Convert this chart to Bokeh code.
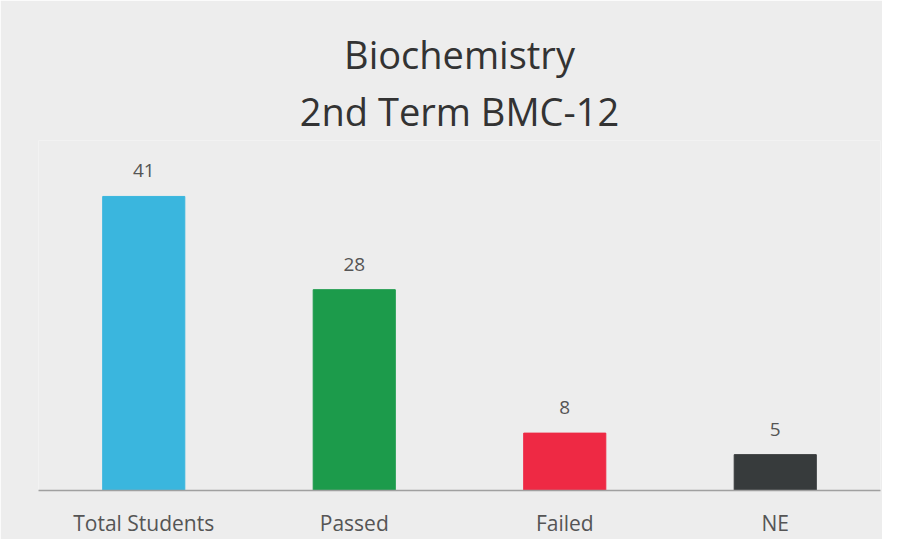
from bokeh.plotting import figure
from bokeh.models import ColumnDataSource, LabelSet, Title, Range1d
from bokeh.core.properties import value
from bokeh.embed import file_html
from bokeh.resources import INLINE

categories = ["Total Students", "Passed", "Failed", "NE"]
values = [41, 28, 8, 5]
colors = ["#3AB6DE", "#1C9B4B", "#EE2944", "#373B3C"]

src = ColumnDataSource(dict(cat=categories, val=values, col=colors,
                            lbl=[str(v) for v in values]))

bg = "#EDEDED"
p = figure(x_range=categories, width=882, height=539, output_backend="svg",
           toolbar_location=None, title=None,
           background_fill_color=bg, border_fill_color=bg,
           min_border_left=38, min_border_right=2, min_border_bottom=48,
           min_border_top=140)
p.outline_line_color = None
p.y_range = Range1d(0, 48.8)

p.vbar(x="cat", top="val", width=0.39, color="col", source=src)

labels = LabelSet(x="cat", y="val", text="lbl", source=src, y_offset=19,
                  text_align="center", text_baseline="bottom",
                  text_font=value("Open Sans"), text_font_size="19px",
                  text_color="#555555")
p.add_layout(labels)

p.add_layout(Title(text="2nd Term BMC-12", align="center", text_font="Open Sans",
                   text_font_size="38px", text_font_style="normal",
                   text_color="#333333", standoff=7), "above")
p.add_layout(Title(text="Biochemistry", align="center", text_font="Open Sans",
                   text_font_size="38px", text_font_style="normal",
                   text_color="#333333", standoff=0), "above")

p.yaxis.visible = False
p.xgrid.grid_line_color = None
p.ygrid.grid_line_color = None
p.xaxis.axis_line_color = "#A0A0A0"
p.xaxis.axis_line_width = 1.5
p.xaxis.major_tick_line_color = None
p.xaxis.minor_tick_line_color = None
p.xaxis.major_label_standoff = 12
p.xaxis.major_label_text_font = "Open Sans"
p.xaxis.major_label_text_font_size = "21px"
p.xaxis.major_label_text_color = "#555555"

open("out.html", "w").write(file_html(p, INLINE))
